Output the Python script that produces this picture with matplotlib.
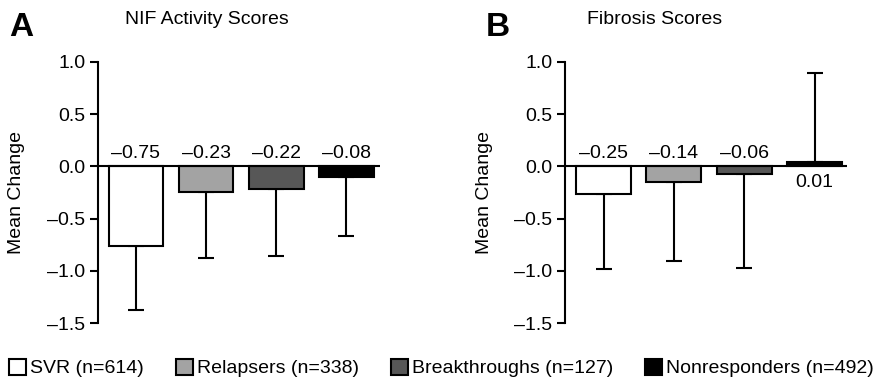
import numpy as np
import matplotlib.pyplot as plt
from matplotlib.patches import Patch

plt.rcParams['font.family'] = ['Liberation Sans', 'DejaVu Sans']

groups = ['SVR (n=614)', 'Relapsers (n=338)', 'Breakthroughs (n=127)', 'Nonresponders (n=492)']
colors = ['#ffffff', '#a3a3a3', '#575757', '#000000']

# panel A: NIF activity
nif_mean = [-0.76, -0.25, -0.22, -0.10]
nif_labels = ['–0.75', '–0.23', '–0.22', '–0.08']
nif_err_end = [-1.38, -0.88, -0.86, -0.67]

# panel B: fibrosis
fib_mean = [-0.26, -0.15, -0.07, 0.04]
fib_labels = ['–0.25', '–0.14', '–0.06', '0.01']
fib_err_end = [-0.98, -0.91, -0.97, 0.89]

yticks = [1.0, 0.5, 0.0, -0.5, -1.0, -1.5]
ytick_labels = ['1.0', '0.5', '0.0', '–0.5', '–1.0', '–1.5']

W, H = 873, 381
fig = plt.figure(figsize=(W / 100, H / 100), dpi=100)


def panel(left_px, means, labels, ends, xlim):
    ax = fig.add_axes([left_px / W, 1 - 323 / H, 282 / W, 261 / H])
    x = np.arange(len(means))
    means = np.array(means)
    ends = np.array(ends)
    lower = np.where(means < 0, means - ends, 0)
    upper = np.where(means > 0, ends - means, 0)
    ax.errorbar(x, means, yerr=[lower, upper], fmt='none', ecolor='black',
                elinewidth=1.5, capsize=5.5, capthick=1.5, zorder=1)
    ax.bar(x, means, width=0.78, color=colors, edgecolor='black', linewidth=1.5, zorder=2)
    ax.axhline(0, color='black', lw=1.5, zorder=3)
    for xi, m, lab in zip(x, means, labels):
        if m < 0:
            ax.text(xi, 0.045, lab, ha='center', va='bottom', fontsize=14)
        else:
            ax.text(xi, -0.07, lab, ha='center', va='top', fontsize=14)
    ax.set_xlim(*xlim)
    ax.set_ylim(-1.5, 1.0)
    ax.set_xticks([])
    ax.set_yticks(yticks)
    ax.set_yticklabels(ytick_labels, fontsize=14)
    ax.tick_params(axis='y', length=6, width=1.5, direction='out', pad=3)
    for s in ['top', 'right', 'bottom']:
        ax.spines[s].set_visible(False)
    ax.spines['left'].set_linewidth(1.5)
    ax.set_ylabel('Mean Change', fontsize=14)
    return ax


ax_a = panel(98, nif_mean, nif_labels, nif_err_end, (-0.54, 3.48))
ax_a.yaxis.set_label_coords(-0.259, 0.5)
ax_b = panel(565, fib_mean, fib_labels, fib_err_end, (-0.548, 3.46))
ax_b.yaxis.set_label_coords(-0.255, 0.5)

fig.text(207 / W, 1 - 19 / H, 'NIF Activity Scores', ha='center', va='center', fontsize=14)
fig.text(655 / W, 1 - 19 / H, 'Fibrosis Scores', ha='center', va='center', fontsize=14)
fig.text(9 / W, 1 - 27 / H, 'A', ha='left', va='center', fontsize=24, fontweight='bold')
fig.text(486 / W, 1 - 27 / H, 'B', ha='left', va='center', fontsize=24, fontweight='bold')

handles = [Patch(facecolor=c, edgecolor='black', linewidth=1.5) for c in colors]
fig.legend(handles, groups, loc='center left', bbox_to_anchor=(9 / W, 1 - 368 / H),
           ncol=4, frameon=False, fontsize=14, borderpad=0, borderaxespad=0,
           handlelength=0.88, handleheight=0.88, handletextpad=0.2, columnspacing=1.65)

fig.savefig('out.png', dpi=100)
